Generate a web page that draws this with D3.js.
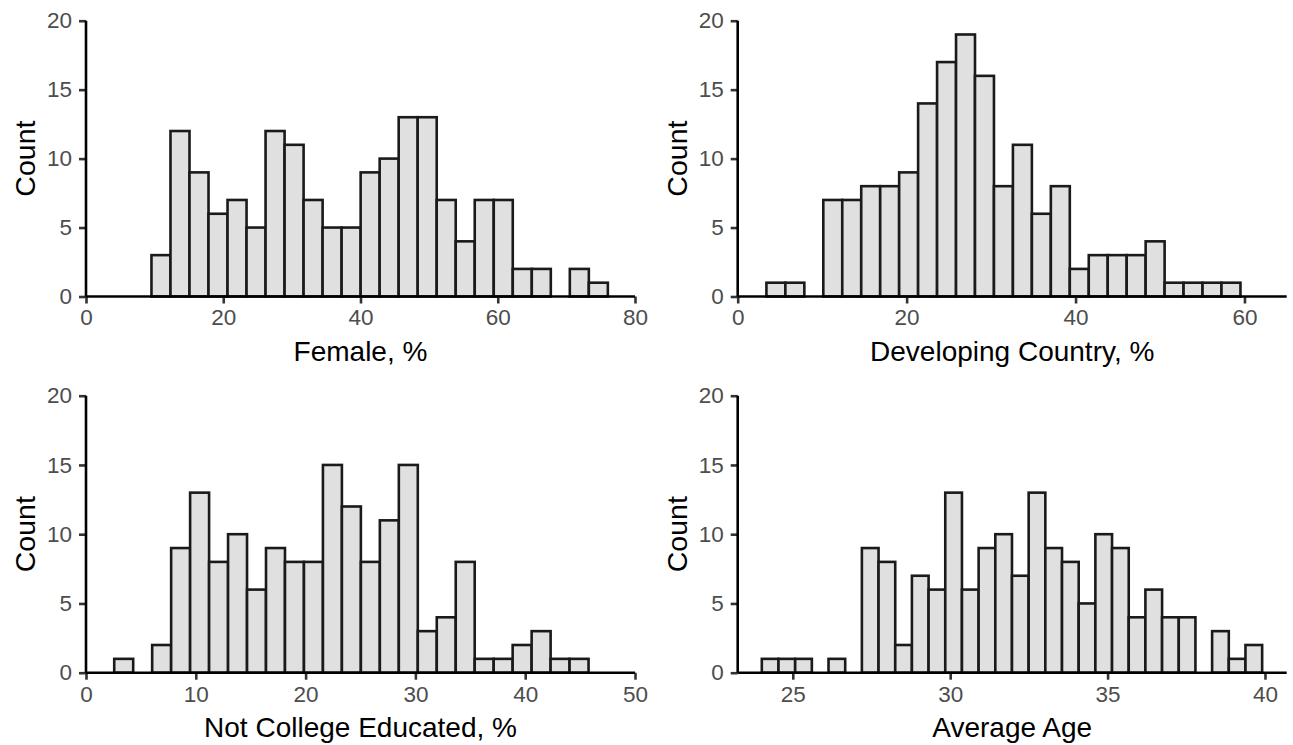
<!DOCTYPE html>
<html>
<head>
<meta charset="utf-8">
<script src="https://cdn.jsdelivr.net/npm/d3@7"></script>
<style>
  html, body { margin: 0; padding: 0; background: #fff; }
  svg { display: block; font-family: "Liberation Sans", Arial, sans-serif; }
</style>
</head>
<body>
<svg id="chart" width="1293" height="745"></svg>
<script>
// Histogram counts per bin
const femaleCounts = [3, 12, 9, 6, 7, 5, 12, 11, 7, 5, 5, 9, 10, 13, 13, 7, 4, 7, 7, 2, 2, 0, 2, 1];
const developingCounts = [1, 1, 0, 7, 7, 8, 8, 9, 14, 17, 19, 16, 8, 11, 6, 8, 2, 3, 3, 3, 4, 1, 1, 1, 1];
const collegeCounts = [1, 0, 2, 9, 13, 8, 10, 6, 9, 8, 8, 15, 12, 8, 11, 15, 3, 4, 8, 1, 1, 2, 3, 1, 1];
const ageCounts = [1, 1, 1, 0, 1, 0, 9, 8, 2, 7, 6, 13, 6, 9, 10, 7, 13, 9, 8, 5, 10, 9, 4, 6, 4, 4, 0, 3, 1, 2];

// Bin layout (first bin edge, bin width)
const femaleBins = [9.54, 2.771];
const developingBins = [3.4, 2.245];
const collegeBins = [2.57, 1.728];
const ageBins = [24.016, 0.5298];

// Axis labels and ticks
const xLabels = ['Female, %', 'Developing Country, %', 'Not College Educated, %', 'Average Age'];
const xDomains = [[0, 80], [0, 65], [0, 50], [23.25, 40.69]];
const xTicks = [[0, 20, 40, 60, 80], [0, 20, 40, 60], [0, 10, 20, 30, 40, 50], [25, 30, 35, 40]];
const yTicks = [0, 5, 10, 15, 20];
const yLabel = 'Count';

// Panel frames in pixels
const panels = [
  { counts: femaleCounts, bins: femaleBins, left: 86, top: 20.7, bottom: 296.5 },
  { counts: developingCounts, bins: developingBins, left: 737.7, top: 20.7, bottom: 296.5 },
  { counts: collegeCounts, bins: collegeBins, left: 86, top: 395.7, bottom: 672.7 },
  { counts: ageCounts, bins: ageBins, left: 737.7, top: 395.7, bottom: 672.7 }
];
const panelWidth = 549;
const lineW = 2.6;

const svg = d3.select('#chart');

panels.forEach((p, i) => {
  const g = svg.append('g');

  const x = d3.scaleLinear().domain(xDomains[i]).range([p.left, p.left + panelWidth]);
  const y = d3.scaleLinear().domain([0, 20]).range([p.bottom, p.top]);

  // zero-count bins sit on the axis and aren't visible, so skip them
  const bars = p.counts
    .map((c, k) => ({ x0: p.bins[0] + k * p.bins[1], x1: p.bins[0] + (k + 1) * p.bins[1], n: c }))
    .filter(d => d.n > 0);

  g.selectAll('rect')
    .data(bars)
    .join('rect')
    .attr('x', d => x(d.x0))
    .attr('y', d => y(d.n))
    .attr('width', d => x(d.x1) - x(d.x0))
    .attr('height', d => y(0) - y(d.n))
    .attr('fill', '#e0e0e0')
    .attr('stroke', '#1a1a1a')
    .attr('stroke-width', lineW);

  const xAxis = g.append('g')
    .attr('transform', `translate(0,${p.bottom})`)
    .call(d3.axisBottom(x).tickValues(xTicks[i]).tickSize(7).tickPadding(6).tickFormat(d3.format('d')));

  const yAxis = g.append('g')
    .attr('transform', `translate(${p.left},0)`)
    .call(d3.axisLeft(y).tickValues(yTicks).tickSize(7).tickPadding(7).tickFormat(d3.format('d')));

  [xAxis, yAxis].forEach(a => {
    a.select('.domain').remove();
    a.selectAll('.tick line').attr('stroke', '#333').attr('stroke-width', lineW);
    a.selectAll('.tick text').attr('fill', '#4d4d4d').attr('font-size', 22.5)
      .attr('font-family', '"Liberation Sans", Arial, sans-serif');
  });

  // axis lines without outer ticks
  g.append('line')
    .attr('x1', p.left).attr('x2', p.left + panelWidth)
    .attr('y1', p.bottom).attr('y2', p.bottom)
    .attr('stroke', '#000').attr('stroke-width', lineW);
  g.append('line')
    .attr('x1', p.left).attr('x2', p.left)
    .attr('y1', p.top).attr('y2', p.bottom)
    .attr('stroke', '#000').attr('stroke-width', lineW);

  // axis titles
  g.append('text')
    .attr('x', p.left + panelWidth / 2)
    .attr('y', p.bottom + 64)
    .attr('text-anchor', 'middle')
    .attr('font-size', 28)
    .attr('fill', '#000')
    .text(xLabels[i]);

  g.append('text')
    .attr('transform', `translate(${p.left - 51},${(p.top + p.bottom) / 2}) rotate(-90)`)
    .attr('text-anchor', 'middle')
    .attr('font-size', 28.5)
    .attr('fill', '#000')
    .text(yLabel);
});
</script>
</body>
</html>
